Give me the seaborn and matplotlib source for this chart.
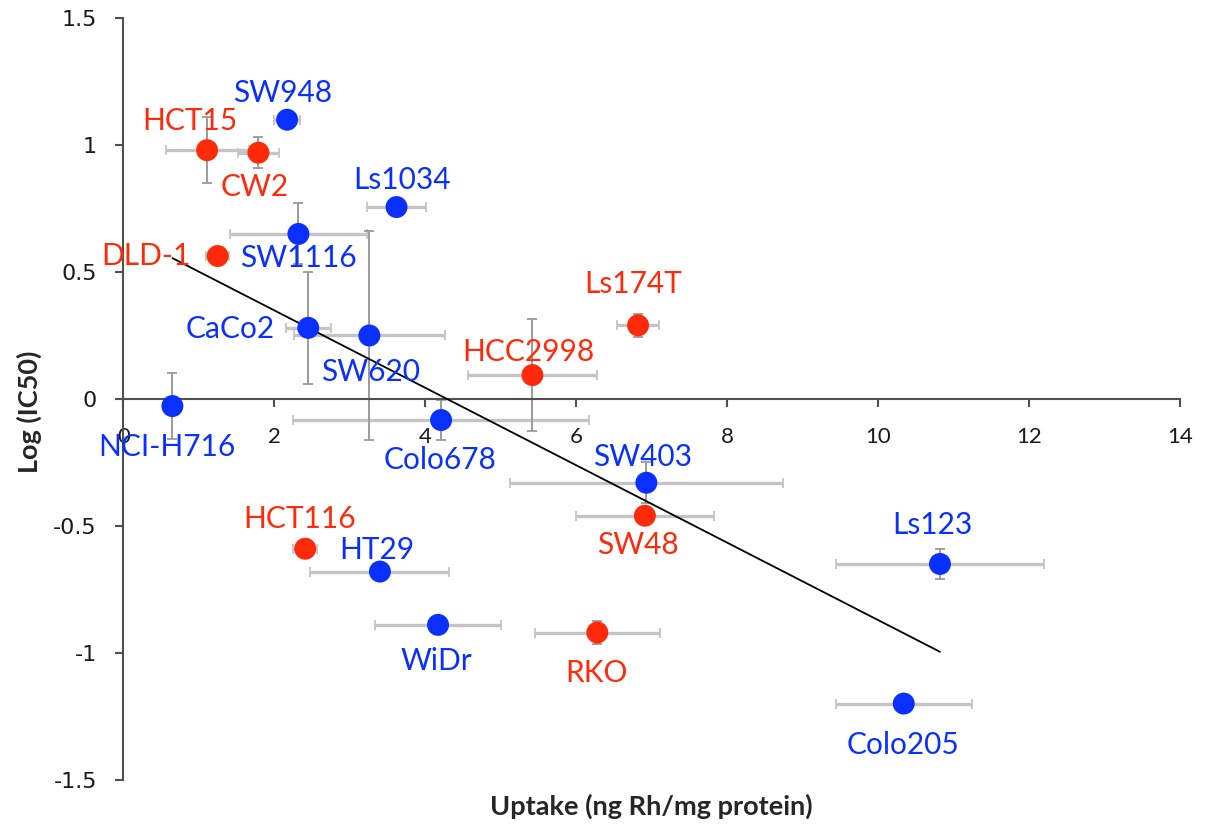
import matplotlib
matplotlib.use("Agg")
import matplotlib.pyplot as plt
import numpy as np
import pandas as pd
import seaborn as sns

# Data
cell_lines = ["SW948", "HCT15", "CW2", "Ls1034", "SW1116", "DLD-1", "Ls174T", "CaCo2",
              "SW620", "HCC2998", "NCI-H716", "Colo678", "SW403", "SW48", "HCT116",
              "HT29", "Ls123", "WiDr", "RKO", "Colo205"]
uptake = [2.17, 1.11, 1.79, 3.62, 2.32, 1.25, 6.82, 2.45,
          3.26, 5.42, 0.65, 4.21, 6.93, 6.91, 2.41,
          3.40, 10.82, 4.17, 6.28, 10.34]
log_ic50 = [1.10, 0.98, 0.97, 0.756, 0.65, 0.563, 0.29, 0.28,
            0.25, 0.094, -0.028, -0.083, -0.33, -0.46, -0.59,
            -0.68, -0.65, -0.89, -0.92, -1.20]
uptake_err = [0.17, 0.55, 0.27, 0.39, 0.91, 0.15, 0.28, 0.30,
              1.00, 0.85, 0.0, 1.96, 1.81, 0.91, 0.16,
              0.92, 1.38, 0.83, 0.83, 0.90]
log_err = [0.02, 0.13, 0.06, 0.0, 0.12, 0.03, 0.045, 0.22,
           0.41, 0.22, 0.13, 0.08, 0.08, 0.0, 0.0,
           0.0, 0.06, 0.0, 0.045, 0.0]
group = ["blue", "red", "red", "blue", "blue", "red", "red", "blue",
         "blue", "red", "blue", "blue", "blue", "red", "red",
         "blue", "blue", "blue", "red", "blue"]
x_ticks = [0, 2, 4, 6, 8, 10, 12, 14]
y_ticks = [-1.5, -1, -0.5, 0, 0.5, 1, 1.5]
y_tick_labels = ["-1.5", "-1", "-0.5", "0", "0.5", "1", "1.5"]
trend_slope = -0.1525
trend_intercept = 0.654

df = pd.DataFrame({"name": cell_lines, "uptake": uptake, "log_ic50": log_ic50,
                   "xerr": uptake_err, "yerr": log_err, "group": group})

# label placement, pixel offsets from the point (layout only)
label_offsets = {
    "SW948": (-5, 27, "center"), "HCT15": (-17, 29, "center"), "CW2": (-4, -34, "center"),
    "Ls1034": (5, 27, "center"), "SW1116": (0, -24, "center"), "DLD-1": (-27, 0, "right"),
    "Ls174T": (-5, 41, "center"), "CaCo2": (-33, -1, "right"), "SW620": (1, -37, "center"),
    "HCC2998": (-4, 23, "center"), "NCI-H716": (-6, -41, "center"), "Colo678": (-1, -40, "center"),
    "SW403": (-4, 26, "center"), "SW48": (-7, -29, "center"), "HCT116": (-6, 30, "center"),
    "HT29": (-3, 22, "center"), "Ls123": (-8, 39, "center"), "WiDr": (-2, -36, "center"),
    "RKO": (-1, -40, "center"), "Colo205": (-1, -41, "center"),
}
palette = {"blue": "#0a30ff", "red": "#ff2a0a"}

sns.set_style("white")
plt.rcParams["font.family"] = ["Lato", "DejaVu Sans"]
plt.rcParams["xtick.labelsize"] = 16
plt.rcParams["ytick.labelsize"] = 16

fig = plt.figure(figsize=(12.09, 8.26), dpi=100)
ax = fig.add_axes([0.102, 0.056, 0.874, 0.922])

# error bars: horizontal light and thick, vertical thinner and darker
ax.errorbar(df["uptake"], df["log_ic50"], xerr=df["xerr"], fmt="none",
            ecolor="#c4c4c4", elinewidth=2.4, capsize=3.5, capthick=1.3, zorder=2)
ax.errorbar(df["uptake"], df["log_ic50"], yerr=df["yerr"], fmt="none",
            ecolor="#9a9a9a", elinewidth=1.4, capsize=3.5, capthick=1.3, zorder=2)

# trendline
xs = np.array([df["uptake"].min(), df["uptake"].max()])
ax.plot(xs, trend_intercept + trend_slope * xs, color="black", lw=1.3, zorder=3)

sns.scatterplot(data=df, x="uptake", y="log_ic50", hue="group", palette=palette, s=250,
                edgecolor="none", legend=False, ax=ax, zorder=4)

for _, r in df.iterrows():
    dx, dy, ha = label_offsets[r["name"]]
    ax.annotate(r["name"], (r["uptake"], r["log_ic50"]), xytext=(dx, dy),
                textcoords="offset pixels", ha=ha, va="center", fontsize=21.5,
                color=palette[r["group"]], zorder=5)

ax.set_xlim(0, 14)
ax.set_ylim(-1.5, 1.5)
ax.set_xticks(x_ticks)
ax.set_xticklabels([str(t) for t in x_ticks], fontsize=16, fontfamily="DejaVu Sans")
ax.set_yticks(y_ticks)
ax.set_yticklabels(y_tick_labels, fontsize=16, fontfamily="DejaVu Sans")

ax.spines["top"].set_visible(False)
ax.spines["right"].set_visible(False)
ax.spines["bottom"].set_position(("data", 0))
for s in ("left", "bottom"):
    ax.spines[s].set_color("#505050")
    ax.spines[s].set_linewidth(1.5)
ax.tick_params(axis="both", direction="out", length=6, width=1.5, color="#505050",
               labelcolor="#1a1a1a", bottom=True, left=True)
ax.tick_params(axis="x", pad=14)
ax.tick_params(axis="y", pad=13)

ax.set_xlabel("Uptake (ng Rh/mg protein)", fontsize=19.5, fontweight="bold")
ax.set_ylabel("Log (IC50)", fontsize=19.5, fontweight="bold")
ax.xaxis.set_label_coords(0.5, -0.018)
ax.yaxis.set_label_coords(-0.077, 0.483)

fig.savefig("out.png", dpi=100)
